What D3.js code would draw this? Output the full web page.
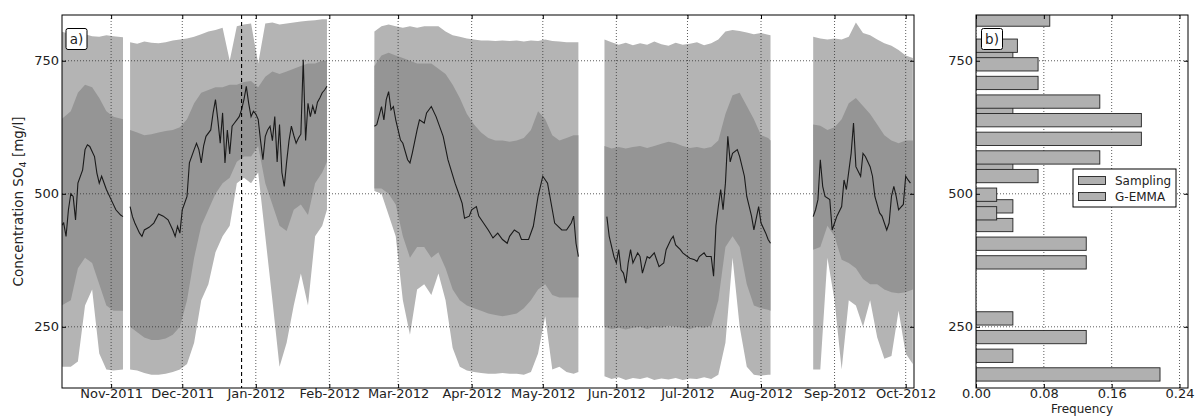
<!DOCTYPE html>
<meta charset="utf-8">
<style>
  body { margin: 0; background: #fff; }
  text { font-family: "DejaVu Sans", sans-serif; }
</style>
<body>
<svg id="chart" width="1195" height="416"></svg>
<script src="https://d3js.org/d3.v7.min.js"></script>
<script>
// ---- data ----
// percentile bands of the simulated concentration (null = no data)
var bandDates = [
  "2011-10-11","2011-10-15","2011-10-18","2011-10-21","2011-10-24","2011-10-27","2011-10-30","2011-11-02","2011-11-06",
  "2011-11-07",
  "2011-11-09","2011-11-12","2011-11-15","2011-11-18","2011-11-21","2011-11-24","2011-11-27","2011-11-30","2011-12-03","2011-12-06",
  "2011-12-09","2011-12-12","2011-12-15","2011-12-18","2011-12-21","2011-12-24","2011-12-27","2011-12-30","2012-01-02","2012-01-05",
  "2012-01-08","2012-01-11","2012-01-14","2012-01-17","2012-01-20","2012-01-23","2012-01-26","2012-01-29","2012-01-31",
  "2012-02-10",
  "2012-02-20","2012-02-23","2012-02-26","2012-02-29","2012-03-03","2012-03-06","2012-03-09","2012-03-12","2012-03-15","2012-03-18",
  "2012-03-21","2012-03-24","2012-03-27","2012-03-30","2012-04-02","2012-04-05","2012-04-08","2012-04-11","2012-04-14","2012-04-17",
  "2012-04-20","2012-04-23","2012-04-26","2012-04-29","2012-05-02","2012-05-05","2012-05-08","2012-05-11","2012-05-14","2012-05-16",
  "2012-05-21",
  "2012-05-27","2012-05-30","2012-06-02","2012-06-05","2012-06-08","2012-06-11","2012-06-14","2012-06-17","2012-06-20","2012-06-23",
  "2012-06-26","2012-06-29","2012-07-02","2012-07-05","2012-07-08","2012-07-11","2012-07-14","2012-07-17","2012-07-20","2012-07-23",
  "2012-07-26","2012-07-29","2012-08-01","2012-08-04","2012-08-05",
  "2012-08-14",
  "2012-08-23","2012-08-26","2012-08-29","2012-09-01","2012-09-04","2012-09-07","2012-09-10","2012-09-13","2012-09-16","2012-09-19",
  "2012-09-22","2012-09-25","2012-09-28","2012-10-01","2012-10-04"
];
var p95 = [
  805,800,798,800,796,795,798,796,794,
  null,
  785,782,786,784,783,785,788,790,792,795,800,805,808,812,750,815,818,820,745,820,822,818,820,822,824,825,826,828,828,
  null,
  805,815,818,815,812,815,812,815,815,815,805,798,795,792,790,788,788,787,788,787,788,786,788,787,790,787,786,785,785,785,
  null,
  790,785,780,784,779,783,780,786,781,778,784,780,782,785,779,783,790,805,808,806,803,800,802,799,798,
  null,
  795,792,790,792,790,795,822,802,798,790,783,778,770,760,755
];
var p75 = [
  640,655,690,705,700,680,655,645,640,
  null,
  620,615,610,612,615,618,620,625,640,670,690,695,700,700,705,705,710,712,700,720,730,725,730,735,740,745,745,750,750,
  null,
  740,760,765,760,755,750,745,745,745,735,725,705,680,650,630,615,605,600,600,598,600,605,620,655,640,610,600,605,610,610,
  null,
  590,585,588,585,588,590,586,590,594,598,595,590,586,588,585,588,600,650,685,690,665,640,610,605,600,
  null,
  630,628,620,625,640,670,680,665,650,630,610,600,595,600,600
];
var p25 = [
  290,300,360,380,370,330,290,280,280,
  null,
  250,240,230,225,225,228,235,250,300,380,440,470,500,520,530,560,570,570,590,520,480,440,430,470,480,460,520,540,560,
  null,
  510,510,500,480,420,380,400,400,380,390,360,320,300,290,285,280,275,272,270,272,275,285,300,320,330,310,305,305,305,305,
  null,
  250,246,248,245,248,250,246,250,248,252,250,248,246,250,248,252,300,400,420,400,330,290,285,282,280,
  null,
  395,400,440,420,376,370,360,340,330,330,320,315,313,315,320
];
var p5 = [
  175,175,185,290,320,200,170,168,170,
  null,
  170,168,163,160,160,162,165,170,180,220,300,330,390,420,440,520,530,520,540,420,300,175,220,290,350,290,420,440,470,
  null,
  505,500,460,420,300,235,320,330,310,350,300,210,175,168,165,163,162,162,163,162,162,160,165,200,270,170,175,165,162,165,
  null,
  157,152,155,150,154,152,155,150,153,151,154,150,153,152,155,152,160,220,380,250,175,160,158,160,160,
  null,
  170,170,380,300,170,300,290,250,300,230,190,195,280,200,180
];

// median line
var lineDates = [
  "2011-10-11","2011-10-12","2011-10-13","2011-10-14","2011-10-15","2011-10-16","2011-10-17","2011-10-18","2011-10-20","2011-10-21",
  "2011-10-22","2011-10-23","2011-10-25","2011-10-26","2011-10-27","2011-10-28","2011-10-30","2011-11-01","2011-11-03","2011-11-05","2011-11-06",
  "2011-11-07",
  "2011-11-09","2011-11-10","2011-11-11","2011-11-13","2011-11-14","2011-11-15","2011-11-17","2011-11-19","2011-11-21","2011-11-23",
  "2011-11-25","2011-11-27","2011-11-28","2011-11-29","2011-11-30","2011-12-01","2011-12-03","2011-12-04","2011-12-06","2011-12-07",
  "2011-12-08","2011-12-09","2011-12-10","2011-12-11","2011-12-13","2011-12-14","2011-12-15","2011-12-16","2011-12-17","2011-12-18",
  "2011-12-19","2011-12-20","2011-12-21","2011-12-22","2011-12-23","2011-12-24","2011-12-25","2011-12-26","2011-12-27","2011-12-28",
  "2011-12-29","2011-12-30","2011-12-31","2012-01-01","2012-01-02","2012-01-03","2012-01-04","2012-01-05","2012-01-06","2012-01-07",
  "2012-01-08","2012-01-09","2012-01-10","2012-01-11","2012-01-12","2012-01-13","2012-01-14","2012-01-15","2012-01-16","2012-01-17",
  "2012-01-18","2012-01-19","2012-01-20","2012-01-21","2012-01-22","2012-01-23","2012-01-24","2012-01-25","2012-01-26","2012-01-27",
  "2012-01-28","2012-01-29","2012-01-30","2012-01-31",
  "2012-02-10",
  "2012-02-20","2012-02-21","2012-02-23","2012-02-24","2012-02-25","2012-02-26","2012-02-27","2012-02-28","2012-02-29","2012-03-02",
  "2012-03-03","2012-03-05","2012-03-06","2012-03-07","2012-03-09","2012-03-10","2012-03-12","2012-03-13","2012-03-15","2012-03-17",
  "2012-03-20","2012-03-22","2012-03-25","2012-03-27","2012-03-28","2012-03-29","2012-03-31","2012-04-01","2012-04-03","2012-04-04",
  "2012-04-06","2012-04-08","2012-04-10","2012-04-12","2012-04-14","2012-04-16","2012-04-17","2012-04-19","2012-04-21","2012-04-22",
  "2012-04-25","2012-04-27","2012-04-29","2012-05-01","2012-05-03","2012-05-05","2012-05-06","2012-05-09","2012-05-11","2012-05-13",
  "2012-05-14","2012-05-15","2012-05-16",
  "2012-05-21",
  "2012-05-28","2012-05-29","2012-05-31","2012-06-01","2012-06-02","2012-06-03","2012-06-04","2012-06-05","2012-06-06","2012-06-07",
  "2012-06-08","2012-06-10","2012-06-11","2012-06-12","2012-06-14","2012-06-15","2012-06-17","2012-06-18","2012-06-19","2012-06-21",
  "2012-06-22","2012-06-24","2012-06-25","2012-06-26","2012-06-28","2012-06-29","2012-07-01","2012-07-02","2012-07-04","2012-07-05",
  "2012-07-06","2012-07-08","2012-07-09","2012-07-11","2012-07-12","2012-07-13","2012-07-14","2012-07-15","2012-07-16","2012-07-17",
  "2012-07-18","2012-07-19","2012-07-20","2012-07-22","2012-07-23","2012-07-25","2012-07-26","2012-07-28","2012-07-29","2012-07-31",
  "2012-08-01","2012-08-03","2012-08-04","2012-08-05",
  "2012-08-14",
  "2012-08-23","2012-08-24","2012-08-25","2012-08-26","2012-08-27","2012-08-28","2012-08-30","2012-08-31","2012-09-01","2012-09-02",
  "2012-09-04","2012-09-05","2012-09-06","2012-09-08","2012-09-09","2012-09-10","2012-09-12","2012-09-13","2012-09-14","2012-09-16",
  "2012-09-17","2012-09-18","2012-09-20","2012-09-21","2012-09-23","2012-09-24","2012-09-25","2012-09-26","2012-09-27","2012-09-28",
  "2012-09-30","2012-10-01","2012-10-02","2012-10-03"
];
var median = [
  440,445,420,470,500,495,451,520,545,583,
  592,589,570,539,520,533,508,489,470,460,457,
  null,
  476,457,445,426,420,432,437,445,462,458,
  451,432,420,439,426,470,495,558,583,595,
  583,558,590,608,620,652,677,639,595,652,
  558,620,575,627,633,639,645,658,677,702,
  670,645,655,650,640,600,564,608,620,627,
  600,645,560,630,540,514,560,600,627,610,
  595,605,612,752,600,670,645,665,650,672,
  680,690,695,702,
  null,
  627,630,664,639,677,692,658,664,639,601,
  595,564,558,577,620,639,633,652,664,645,
  608,564,520,495,482,454,458,470,476,458,
  445,432,417,426,414,407,420,432,426,414,
  414,439,495,533,520,470,445,432,432,445,
  458,407,382,
  null,
  457,420,382,370,395,357,351,332,370,395,
  370,389,382,351,382,379,389,376,363,370,
  395,414,420,404,395,389,382,379,376,373,
  382,389,382,382,345,440,476,508,470,520,
  608,560,576,583,570,533,495,458,432,476,
  445,426,414,407,
  null,
  457,470,489,564,514,495,489,432,445,458,
  476,526,508,576,633,551,533,576,570,551,
  533,495,464,458,432,445,495,514,495,470,
  480,533,526,520
];

// histogram b): bin centres [mg/l] and relative frequencies
var samplingBins = [827.4, 757.2, 651.9, 546.6, 476.4, 441.3, 406.2, 371.1, 265.8, 230.7, 195.6, 160.5];
var samplingFreq = [0.087, 0.0435, 0.0435, 0.0435, 0.0435, 0.0435, 0.13, 0.13, 0.0435, 0.13, 0.0435, 0.217];
var emmaBins = [778.3, 743.3, 708.3, 673.3, 638.3, 603.3, 568.3, 533.3, 498.3, 463.3];
var emmaFreq = [0.0488, 0.0732, 0.0732, 0.146, 0.195, 0.195, 0.146, 0.0732, 0.0244, 0.0244];

var monthTicks = ["2011-11-01","2011-12-01","2012-01-01","2012-02-01","2012-03-01","2012-04-01",
                  "2012-05-01","2012-06-01","2012-07-01","2012-08-01","2012-09-01","2012-10-01"];
var concTicks = [250, 500, 750];
var freqTicks = [0, 0.08, 0.16, 0.24];
var markerDates = ["2011-12-26"];
var legendNames = ["Sampling", "G-EMMA"];

// ---- layout ----
var plot = {left: 62, right: 914, top: 15, bottom: 388};
var hist = {left: 976, right: 1188};
var outerFill = "#b4b4b4", innerFill = "#959595", barFill = "#b0b0b0";

var parse = d3.timeParse("%Y-%m-%d");
var svg = d3.select("#chart");

var x = d3.scaleTime()
  .domain([new Date(2011, 9, 11, 7), new Date(2012, 9, 4, 12)])
  .range([plot.left, plot.right]);
var y = d3.scaleLinear().domain([135, 836]).range([plot.bottom, plot.top]);
var xh = d3.scaleLinear().domain([0, 0.25]).range([hist.left, hist.right]);

var defs = svg.append("defs");
defs.append("clipPath").attr("id", "clipA").append("rect")
  .attr("x", plot.left).attr("y", plot.top)
  .attr("width", plot.right - plot.left).attr("height", plot.bottom - plot.top);
defs.append("clipPath").attr("id", "clipB").append("rect")
  .attr("x", hist.left).attr("y", plot.top)
  .attr("width", hist.right - hist.left).attr("height", plot.bottom - plot.top);

var bands = bandDates.map(function(d, i) {
  return {date: parse(d), p5: p5[i], p25: p25[i], p75: p75[i], p95: p95[i]};
});
var series = lineDates.map(function(d, i) {
  return {date: parse(d), v: median[i]};
});

// ---- panel a) ----
var gA = svg.append("g").attr("clip-path", "url(#clipA)");

gA.append("path")
  .datum(bands)
  .attr("fill", outerFill)
  .attr("d", d3.area()
    .defined(function(d) { return d.p5 != null; })
    .x(function(d) { return x(d.date); })
    .y0(function(d) { return y(d.p5); })
    .y1(function(d) { return y(d.p95); }));

gA.append("path")
  .datum(bands)
  .attr("fill", innerFill)
  .attr("d", d3.area()
    .defined(function(d) { return d.p25 != null; })
    .x(function(d) { return x(d.date); })
    .y0(function(d) { return y(d.p25); })
    .y1(function(d) { return y(d.p75); }));

// dotted grid
function grid(g, xs, ys, x0, x1) {
  g.selectAll(".gx").data(xs).enter().append("line")
    .attr("x1", function(d) { return d; }).attr("x2", function(d) { return d; })
    .attr("y1", plot.top).attr("y2", plot.bottom);
  g.selectAll(".gy").data(ys).enter().append("line")
    .attr("x1", x0).attr("x2", x1)
    .attr("y1", function(d) { return d; }).attr("y2", function(d) { return d; });
  g.selectAll("line")
    .attr("stroke", "#333").attr("stroke-width", 0.8).attr("stroke-dasharray", "1,2");
}
grid(gA.append("g"), monthTicks.map(function(d) { return x(parse(d)); }),
     concTicks.map(y), plot.left, plot.right);

gA.append("path")
  .datum(series)
  .attr("fill", "none")
  .attr("stroke", "#1a1a1a")
  .attr("stroke-width", 1.1)
  .attr("d", d3.line()
    .defined(function(d) { return d.v != null; })
    .x(function(d) { return x(d.date); })
    .y(function(d) { return y(d.v); }));

gA.selectAll(".marker").data(markerDates).enter().append("line")
  .attr("x1", function(d) { return x(parse(d)); })
  .attr("x2", function(d) { return x(parse(d)); })
  .attr("y1", plot.top).attr("y2", plot.bottom)
  .attr("stroke", "#000").attr("stroke-width", 1.1).attr("stroke-dasharray", "4,3");

// ---- panel b) ----
var gB = svg.append("g").attr("clip-path", "url(#clipB)");
grid(gB.append("g"), freqTicks.map(xh), concTicks.map(y), hist.left, hist.right);

function bars(bins, freq) {
  gB.append("g").selectAll("rect").data(bins).enter().append("rect")
    .attr("x", xh(0))
    .attr("y", function(d) { return y(d + 12.5); })
    .attr("width", function(d, i) { return xh(freq[i]) - xh(0); })
    .attr("height", function(d) { return y(d - 12.5) - y(d + 12.5); })
    .attr("fill", barFill)
    .attr("stroke", "#222")
    .attr("stroke-width", 0.9);
}
bars(samplingBins, samplingFreq);
bars(emmaBins, emmaFreq);

// ---- axes ----
function styleAxis(g) {
  g.select(".domain").remove();
  g.selectAll("line").attr("stroke", "#000");
  g.selectAll("text").attr("fill", "#222");
  g.attr("font-size", 13).attr("font-family", "DejaVu Sans, sans-serif");
}
var timeTicks = monthTicks.map(parse);

svg.append("g").attr("transform", "translate(0," + plot.bottom + ")")
  .call(d3.axisBottom(x).tickValues(timeTicks).tickFormat(d3.timeFormat("%b-%Y"))
    .tickSizeInner(-4).tickSizeOuter(0).tickPadding(1))
  .call(styleAxis);
svg.append("g").attr("transform", "translate(0," + plot.top + ")")
  .call(d3.axisTop(x).tickValues(timeTicks).tickFormat("").tickSizeInner(-4).tickSizeOuter(0))
  .call(styleAxis);
svg.append("g").attr("transform", "translate(" + plot.left + ",0)")
  .call(d3.axisLeft(y).tickValues(concTicks).tickSizeInner(-4).tickSizeOuter(0).tickPadding(3))
  .call(styleAxis);
svg.append("g").attr("transform", "translate(" + plot.right + ",0)")
  .call(d3.axisRight(y).tickValues(concTicks).tickFormat("").tickSizeInner(-4).tickSizeOuter(0))
  .call(styleAxis);

svg.append("g").attr("transform", "translate(0," + plot.bottom + ")")
  .call(d3.axisBottom(xh).tickValues(freqTicks).tickFormat(d3.format(".2f"))
    .tickSizeInner(-4).tickSizeOuter(0).tickPadding(1))
  .call(styleAxis);
svg.append("g").attr("transform", "translate(0," + plot.top + ")")
  .call(d3.axisTop(xh).tickValues(freqTicks).tickFormat("").tickSizeInner(-4).tickSizeOuter(0))
  .call(styleAxis);
svg.append("g").attr("transform", "translate(" + hist.left + ",0)")
  .call(d3.axisLeft(y).tickValues(concTicks).tickSizeInner(-4).tickSizeOuter(0).tickPadding(3))
  .call(styleAxis);
svg.append("g").attr("transform", "translate(" + hist.right + ",0)")
  .call(d3.axisRight(y).tickValues(concTicks).tickFormat("").tickSizeInner(-4).tickSizeOuter(0))
  .call(styleAxis);

// frames
svg.append("rect").attr("x", plot.left).attr("y", plot.top)
  .attr("width", plot.right - plot.left).attr("height", plot.bottom - plot.top)
  .attr("fill", "none").attr("stroke", "#000").attr("stroke-width", 1);
svg.append("rect").attr("x", hist.left).attr("y", plot.top)
  .attr("width", hist.right - hist.left).attr("height", plot.bottom - plot.top)
  .attr("fill", "none").attr("stroke", "#000").attr("stroke-width", 1);

// axis titles
var ylab = svg.append("text")
  .attr("transform", "translate(23," + ((plot.top + plot.bottom) / 2) + ") rotate(-90)")
  .attr("text-anchor", "middle").attr("font-size", 13.5).attr("fill", "#222");
ylab.append("tspan").text("Concentration SO");
ylab.append("tspan").attr("font-size", 9.5).attr("dy", 3).text("4");
ylab.append("tspan").attr("dy", -3).text(" [mg/l]");

svg.append("text")
  .attr("x", (hist.left + hist.right) / 2).attr("y", 413)
  .attr("text-anchor", "middle").attr("font-size", 12).attr("fill", "#222")
  .text("Frequency");

// panel tags
function tag(px, label) {
  svg.append("rect").attr("x", px).attr("y", 28.5).attr("width", 21).attr("height", 21)
    .attr("rx", 2).attr("fill", "#fff").attr("stroke", "#000").attr("stroke-width", 1);
  svg.append("text").attr("x", px + 10.5).attr("y", 44).attr("text-anchor", "middle")
    .attr("font-size", 13.5).attr("fill", "#222").text(label);
}
tag(66, "a)");
tag(981.5, "b)");

// legend
var lg = svg.append("g").attr("transform", "translate(1073,169)");
lg.append("rect").attr("width", 103).attr("height", 38)
  .attr("fill", "#fff").attr("stroke", "#000").attr("stroke-width", 1);
legendNames.forEach(function(name, i) {
  lg.append("rect").attr("x", 5.5).attr("y", 7.5 + i * 16).attr("width", 27).attr("height", 8)
    .attr("fill", barFill).attr("stroke", "#222").attr("stroke-width", 0.9);
  lg.append("text").attr("x", 42).attr("y", 16 + i * 16)
    .attr("font-size", 12).attr("fill", "#222").text(name);
});
</script>
</body>
